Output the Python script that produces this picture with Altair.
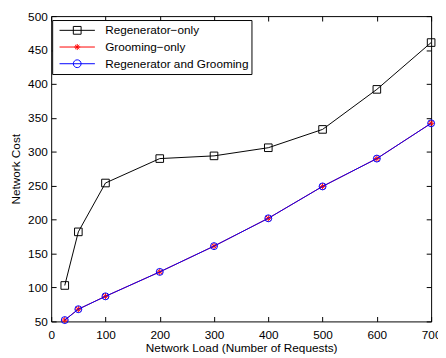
import altair as alt
import pandas as pd

loads = [25, 50, 100, 200, 300, 400, 500, 600, 700]
regenerator_only = [103, 182, 254, 290, 294, 306, 333, 392, 461]
grooming_only = [52, 68, 87, 123, 161, 202, 249, 290, 342]
regenerator_and_grooming = [52, 68, 87, 123, 161, 202, 249, 290, 342]
series_names = ["Regenerator\u2212only", "Grooming\u2212only", "Regenerator and Grooming"]
series_colors = ["#000000", "#ff0000", "#0000ff"]
x_ticks = [0, 100, 200, 300, 400, 500, 600, 700]
y_ticks = [50, 100, 150, 200, 250, 300, 350, 400, 450, 500]

df = pd.DataFrame({
    "load": loads * 3,
    "cost": regenerator_only + grooming_only + regenerator_and_grooming,
    "series": [n for n in series_names for _ in loads],
})

FONT = "Liberation Sans"
xs = alt.Scale(domain=[0, 700], nice=False)
ys = alt.Scale(domain=[50, 500], nice=False)

common = dict(domain=False, grid=False, ticks=True, tickSize=5, offset=-5,
              tickColor="black", tickWidth=1, labelFlush=False, labelOverlap=False)
text_style = dict(labelFont=FONT, labelFontSize=12, labelColor="black",
                  titleFont=FONT, titleFontSize=12, titleFontWeight="normal", titleColor="black")

x_bottom = alt.Axis(orient="bottom", values=x_ticks, title="Network Load (Number of Requests)",
                    labelPadding=8, titlePadding=3, **common, **text_style)
y_left = alt.Axis(orient="left", values=y_ticks, title="Network Cost",
                  labelPadding=4, titlePadding=5, **common, **text_style)
x_top = alt.Axis(orient="top", values=x_ticks, labels=False, title=None, **common)
y_right = alt.Axis(orient="right", values=y_ticks, labels=False, title=None, **common)

asterisk = "M0,-1V1M-1,0H1M-0.7,-0.7L0.7,0.7M-0.7,0.7L0.7,-0.7"
marker_shapes = ["square", asterisk, "circle"]
marker_sizes = [60, 45, 50]

legend_paths = [
    "M-1,0H1M-0.22,-0.22H0.22V0.22H-0.22Z",
    "M-1,0H1M0,-0.17V0.17M-0.17,0H0.17M-0.12,-0.12L0.12,0.12M-0.12,0.12L0.12,-0.12",
    "M-1,0H1M0.22,0A0.22,0.22,0,1,1,-0.22,0A0.22,0.22,0,1,1,0.22,0",
]

layers = []
for i, name in enumerate(series_names):
    d = df[df["series"] == name]
    if i == 0:
        xa, ya = x_bottom, y_left
    elif i == 2:
        xa, ya = x_top, y_right
    else:
        xa, ya = None, None
    line = alt.Chart(d).mark_line(color=series_colors[i], strokeWidth=1).encode(
        x=alt.X("load:Q", scale=xs, axis=xa),
        y=alt.Y("cost:Q", scale=ys, axis=ya),
    )
    pts = alt.Chart(d).mark_point(shape=marker_shapes[i], size=marker_sizes[i], filled=False,
                                  color=series_colors[i], strokeWidth=1, opacity=1).encode(
        x=alt.X("load:Q", scale=xs, axis=None),
        y=alt.Y("cost:Q", scale=ys, axis=None),
    )
    layers += [line, pts]

leg = alt.Legend(title=None, orient="none", legendX=1, legendY=4, strokeColor="black",
                 fillColor="white", padding=2, symbolSize=1296, symbolStrokeWidth=1,
                 symbolOffset=5, labelOffset=10, clipHeight=17, rowPadding=0,
                 labelFont=FONT, labelFontSize=12, labelColor="black", labelLimit=400)

legend_layer = alt.Chart(df).transform_filter("false").mark_point(
    filled=False, strokeWidth=1, opacity=1).encode(
    color=alt.Color("series:N", scale=alt.Scale(domain=series_names, range=series_colors), legend=leg),
    shape=alt.Shape("series:N", scale=alt.Scale(domain=series_names, range=legend_paths), legend=leg),
)
layers.append(legend_layer)

chart = alt.layer(*layers).resolve_axis(x="independent", y="independent").properties(
    width=387, height=311,
    autosize=alt.AutoSizeParams(type="none"),
    padding={"left": 44, "top": 5, "right": 7, "bottom": 34},
    background="white",
).configure_view(stroke="black", strokeWidth=1)

chart.save("out.html", embed_options={"renderer": "svg", "actions": False})
